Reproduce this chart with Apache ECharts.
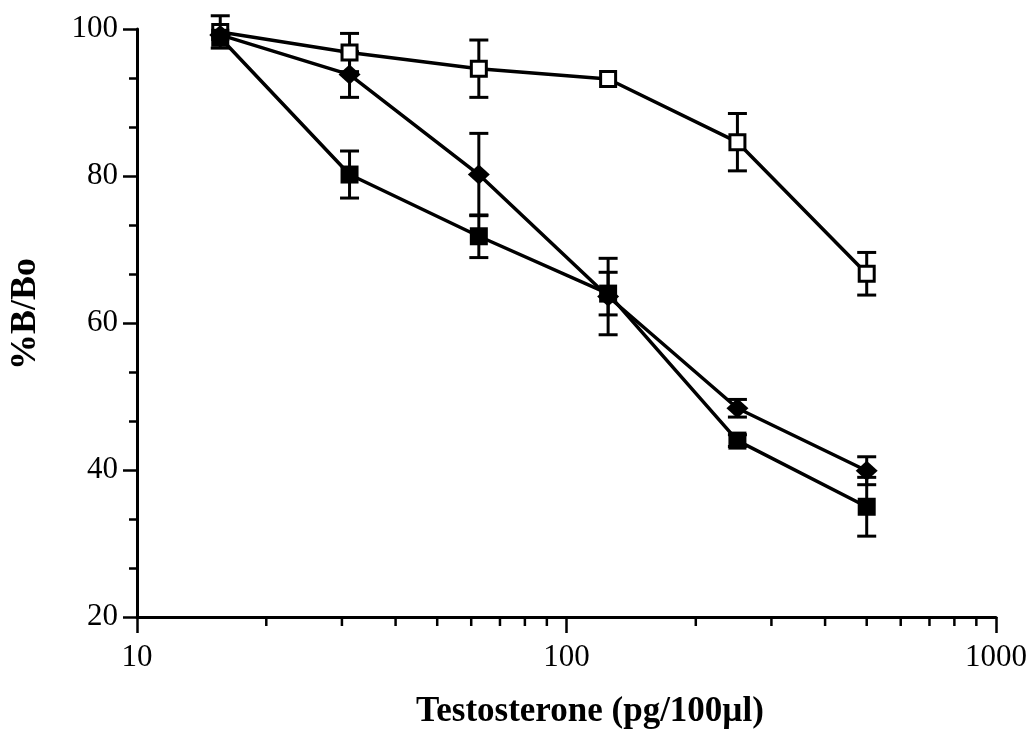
<!DOCTYPE html>
<html>
<head>
<meta charset="utf-8">
<script src="https://cdn.jsdelivr.net/npm/echarts@6/dist/echarts.min.js"></script>
<style>html,body{margin:0;padding:0;background:#fff}#c{width:1030px;height:732px}</style>
</head>
<body>
<div id="c"></div>
<script>
const xValues = [15.625, 31.25, 62.5, 125, 250, 500];
const openSq = [99.6, 96.8, 94.6, 93.2, 84.6, 66.7];
const openErr = [2.2, 2.6, 3.9, 0, 3.9, 2.9];
const diamond = [99.2, 93.8, 80.2, 63.6, 48.4, 39.9];
const diamondErr = [0, 3.1, 5.6, 5.2, 1.2, 1.9];
const filledSq = [98.8, 80.2, 71.8, 64.0, 44.0, 35.0];
const filledErr = [0, 3.2, 2.9, 2.9, 0.8, 4.0];
const xMinorTicks = [20, 30, 40, 50, 60, 70, 80, 90, 200, 300, 400, 500, 600, 700, 800, 900];
const xTickLabels = [10, 100, 1000];
const yTickLabels = [20, 40, 60, 80, 100];

const FONT = '"Liberation Serif", "Times New Roman", serif';

function pairs(ys) { return xValues.map((x, i) => [x, ys[i]]); }
function errData(ys, es) {
  const out = [];
  xValues.forEach((x, i) => { if (es[i] > 0) out.push([x, ys[i] - es[i], ys[i] + es[i]]); });
  return out;
}
function errRender(params, api) {
  const x = api.value(0);
  const lo = api.coord([x, api.value(1)]);
  const hi = api.coord([x, api.value(2)]);
  const hw = 9.5;
  const st = { stroke: '#000', lineWidth: 3 };
  return {
    type: 'group',
    children: [
      { type: 'line', shape: { x1: lo[0], y1: lo[1], x2: hi[0], y2: hi[1] }, style: st },
      { type: 'line', shape: { x1: lo[0] - hw, y1: lo[1], x2: lo[0] + hw, y2: lo[1] }, style: st },
      { type: 'line', shape: { x1: hi[0] - hw, y1: hi[1], x2: hi[0] + hw, y2: hi[1] }, style: st }
    ]
  };
}
function errSeries(ys, es) {
  return { type: 'custom', data: errData(ys, es), renderItem: errRender, z: 1, silent: true, clip: false,
           encode: { x: 0, y: [1, 2] } };
}

const chart = echarts.init(document.getElementById('c'), null, { renderer: 'canvas' });
chart.setOption({
  animation: false,
  backgroundColor: '#fff',
  grid: { left: 137, right: 34, top: 29, bottom: 115, containLabel: false, outerBoundsMode: 'none' },
  xAxis: {
    type: 'log', logBase: 10, min: 10, max: 1000,
    axisLine: { show: true, lineStyle: { color: '#000', width: 3 } },
    axisTick: { show: true, length: 16, inside: false, lineStyle: { color: '#000', width: 2.5 } },
    minorTick: { show: false },
    splitLine: { show: false },
    axisLabel: { color: '#000', fontFamily: FONT, fontSize: 31, margin: 25,
                 formatter: v => xTickLabels.indexOf(Math.round(v)) >= 0 ? String(Math.round(v)) : '' }
  },
  yAxis: {
    type: 'value', min: 20, max: 100, interval: 20,
    axisLine: { show: true, lineStyle: { color: '#000', width: 3 } },
    axisTick: { show: true, length: 14, lineStyle: { color: '#000', width: 2.5 } },
    minorTick: { show: true, splitNumber: 3, length: 8, lineStyle: { color: '#000', width: 2.5 } },
    splitLine: { show: false },
    axisLabel: { color: '#000', fontFamily: FONT, fontSize: 31, margin: 19 }
  },
  graphic: [
    {
      type: 'text', x: 590, y: 712,
      style: { text: 'Testosterone (pg/100\u00b5l)', fill: '#000', font: 'bold 35px ' + FONT,
               textAlign: 'center', textVerticalAlign: 'middle' }
    },
    {
      type: 'text', x: 26, y: 314, rotation: Math.PI / 2,
      style: { text: '%B/Bo', fill: '#000', font: 'bold 36px ' + FONT,
               textAlign: 'center', textVerticalAlign: 'middle' }
    }
  ],
  series: [
    {
      type: 'custom', data: xMinorTicks.map(v => [v, 20]), clip: false, silent: true, z: 5,
      renderItem: (params, api) => {
        const p = api.coord([api.value(0), 20]);
        return { type: 'line', shape: { x1: p[0], y1: p[1], x2: p[0], y2: p[1] + 9 },
                 style: { stroke: '#000', lineWidth: 2.5 } };
      }
    },
    errSeries(openSq, openErr),
    errSeries(diamond, diamondErr),
    errSeries(filledSq, filledErr),
    {
      type: 'line', data: pairs(openSq), z: 3,
      symbol: 'rect', symbolSize: 15, showAllSymbol: true,
      lineStyle: { color: '#000', width: 3.5 },
      itemStyle: { color: '#fff', borderColor: '#000', borderWidth: 3 }
    },
    {
      type: 'line', data: pairs(diamond), z: 3,
      symbol: 'diamond', symbolSize: [22, 20], showAllSymbol: true,
      lineStyle: { color: '#000', width: 3.5 },
      itemStyle: { color: '#000', borderColor: '#000', borderWidth: 0 }
    },
    {
      type: 'line', data: pairs(filledSq), z: 4,
      symbol: 'rect', symbolSize: 18, showAllSymbol: true,
      lineStyle: { color: '#000', width: 3.5 },
      itemStyle: { color: '#000', borderColor: '#000', borderWidth: 0 }
    }
  ]
});
</script>
</body>
</html>
